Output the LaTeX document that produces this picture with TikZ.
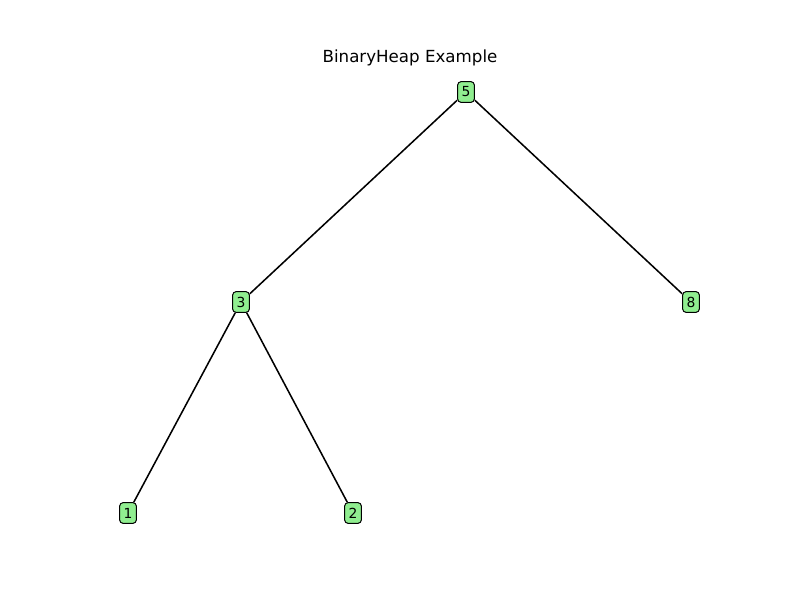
\documentclass[tikz,border=0pt]{standalone}
\usepackage{fontspec}
\setmainfont{DejaVu Sans}
\definecolor{lightgreen}{RGB}{144,238,144}
\begin{document}
\begin{tikzpicture}[x=0.75pt,y=-0.75pt,
  hnode/.style={draw=black,fill=lightgreen,rounded corners=2.5pt,line width=0.75pt,minimum width=12.5pt,minimum height=15.5pt,inner sep=1pt,font=\fontsize{10.4pt}{12pt}\selectfont},
  edge/.style={line width=1.15pt,black}]
\useasboundingbox (0,0) rectangle (800,600);
\node[font=\fontsize{12.5pt}{15pt}\selectfont] (title) at (410,58) {BinaryHeap Example};
\node[hnode] (n5) at (466,92) {5};
\node[hnode] (n3) at (241,302) {3};
\node[hnode] (n8) at (691,302) {8};
\node[hnode] (n1) at (128,513) {1};
\node[hnode] (n2) at (353,513) {2};
\draw[edge] (n5) -- (n3);
\draw[edge] (n5) -- (n8);
\draw[edge] (n3) -- (n1);
\draw[edge] (n3) -- (n2);
\end{tikzpicture}
\end{document}
